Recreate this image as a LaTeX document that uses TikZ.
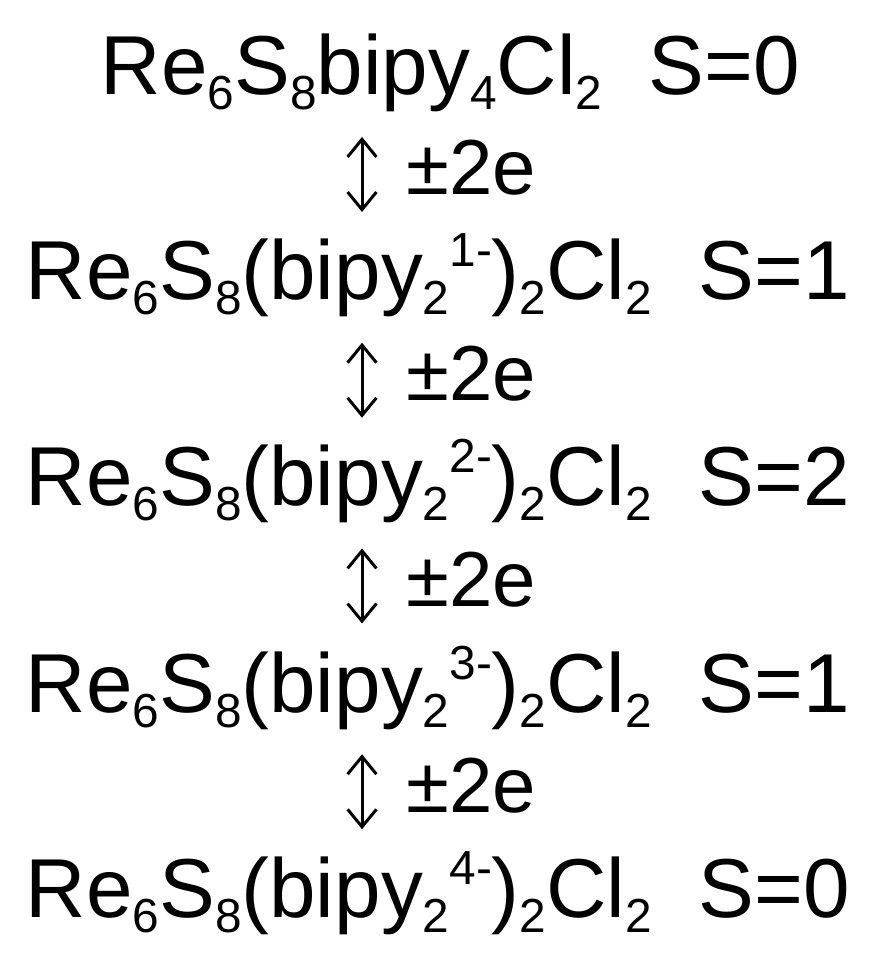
\documentclass[tikz,border=0pt]{standalone}
\usepackage{fontspec}
\setmainfont{Liberation Sans}
\usetikzlibrary{arrows.meta}
\newcommand\lo[1]{\raisebox{-4.2pt}{\fontsize{13.6pt}{15pt}\selectfont #1}}% subscript
\newcommand\hi[1]{\raisebox{9.6pt}{\fontsize{13.6pt}{15pt}\selectfont #1}}% superscript
\tikzset{
  formula/.style = {anchor=base west, inner sep=0pt,
    font=\fontsize{23.8pt}{28pt}\selectfont},% one cluster state
  electrons/.style = {anchor=base west, inner sep=0pt,
    font=\fontsize{22.2pt}{26pt}\selectfont},% +-2e label
  redox/.style = {{Straight Barb[length=5pt,width=8.2pt]}-{Straight Barb[length=5pt,width=8.2pt]},
    line width=0.85pt}% two-way arrow
}

\begin{document}
\begin{tikzpicture}
\useasboundingbox (0,0) rectangle (8.78,9.65);
\node [formula] (s0) at (1.00,8.70) {Re\lo{6}S\lo{8}bipy\lo{4}Cl\lo{2}\ \ S=0};
\node [formula] (s1) at (0.25,6.65) {Re\lo{6}S\lo{8}(bipy\lo{2}\hi{1-})\lo{2}Cl\lo{2}\ \ S=1};
\node [formula] (s2) at (0.25,4.59) {Re\lo{6}S\lo{8}(bipy\lo{2}\hi{2-})\lo{2}Cl\lo{2}\ \ S=2};
\node [formula] (s3) at (0.25,2.52) {Re\lo{6}S\lo{8}(bipy\lo{2}\hi{3-})\lo{2}Cl\lo{2}\ \ S=1};
\node [formula] (s4) at (0.25,0.47) {Re\lo{6}S\lo{8}(bipy\lo{2}\hi{4-})\lo{2}Cl\lo{2}\ \ S=0};
\foreach \k in {1,...,4}{
  \coordinate (t\k) at (3.62,{8.28-2.0575*(\k-1)});
  \coordinate (b\k) at (3.62,{7.53-2.0575*(\k-1)});
  \draw [redox] (t\k) -- (b\k);
  \node [electrons] (e\k) at (4.06,{7.70-2.0575*(\k-1)}) {±2e};
}
\end{tikzpicture}
\end{document}
